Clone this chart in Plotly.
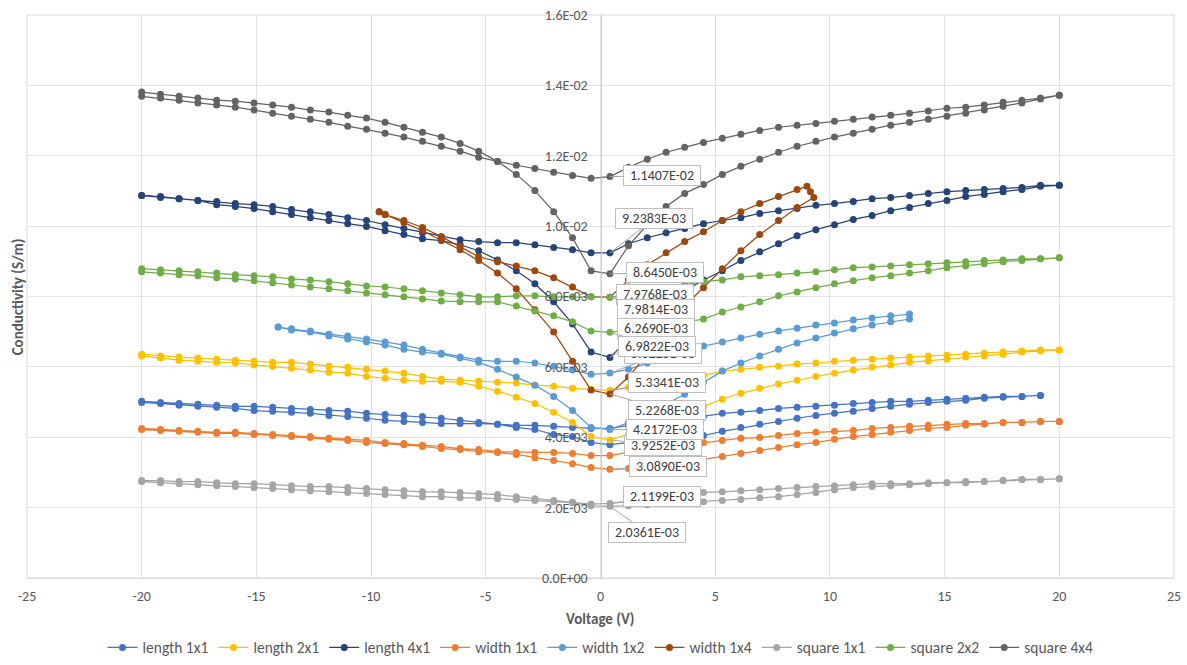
import plotly.graph_objects as go

# Bias voltage steps of the sweep (V)
VOLTAGE = [-20.00, -19.18, -18.37, -17.55, -16.73, -15.92, -15.10, -14.29, -13.47, -12.65,
           -11.84, -11.02, -10.20, -9.39, -8.57, -7.76, -6.94, -6.12, -5.31, -4.49,
           -3.67, -2.86, -2.04, -1.22, -0.41, 0.41, 1.22, 2.04, 2.86, 3.67,
           4.49, 5.31, 6.12, 6.94, 7.76, 8.57, 9.39, 10.20, 11.02, 11.84,
           12.65, 13.47, 14.29, 15.10, 15.92, 16.73, 17.55, 18.37, 19.18, 20.00]

# Voltage lists for the samples that were swept over a narrower window
width_1x2_v = [-14.05] + VOLTAGE[8:42]
width_1x4_v_sweep1 = [-9.65] + VOLTAGE[13:36] + [9.00, 9.15]
width_1x4_v_sweep2 = [-9.65] + VOLTAGE[13:36] + [9.30]

# Conductivity in mS/m, two sweeps per sample
length_1x1_sweep1 = [5.02, 4.99, 4.96, 4.94, 4.91, 4.88, 4.88, 4.85, 4.82, 4.79, 4.76, 4.74, 4.68, 4.65, 4.62, 4.59,
                     4.54, 4.48, 4.42, 4.37, 4.34, 4.34, 4.31, 4.28, 4.25, 4.25, 4.34, 4.42, 4.51, 4.56, 4.59, 4.68,
                     4.71, 4.76, 4.82, 4.85, 4.88, 4.91, 4.96, 4.99, 5.02, 5.02, 5.05, 5.08, 5.11, 5.14, 5.16, 5.16, 5.19]
length_1x1_sweep2 = [4.99, 4.96, 4.91, 4.88, 4.85, 4.82, 4.76, 4.74, 4.71, 4.68, 4.62, 4.59, 4.54, 4.48, 4.45, 4.42,
                     4.39, 4.39, 4.39, 4.37, 4.28, 4.22, 4.08, 4.02, 3.85, 3.79, 3.85, 3.91, 3.97, 4.02, 4.05, 4.17,
                     4.28, 4.37, 4.45, 4.54, 4.62, 4.68, 4.74, 4.82, 4.88, 4.94, 4.99, 5.02, 5.05, 5.11, 5.14, 5.16, 5.19]

length_2x1_sweep1 = [6.36, 6.31, 6.28, 6.25, 6.22, 6.19, 6.16, 6.13, 6.13, 6.08, 6.02, 5.99, 5.93, 5.88, 5.82, 5.73,
                     5.65, 5.62, 5.59, 5.56, 5.54, 5.48, 5.45, 5.39, 5.36, 5.3341, 5.42, 5.51, 5.59, 5.68, 5.76, 5.88,
                     5.93, 5.99, 6.02, 6.08, 6.11, 6.16, 6.19, 6.22, 6.25, 6.28, 6.31, 6.33, 6.36, 6.39, 6.42, 6.45,
                     6.48, 6.48]
length_2x1_sweep2 = [6.31, 6.25, 6.19, 6.16, 6.13, 6.11, 6.05, 6.02, 5.96, 5.91, 5.85, 5.82, 5.73, 5.68, 5.62, 5.59,
                     5.59, 5.56, 5.45, 5.31, 5.14, 4.96, 4.71, 4.42, 4.02, 3.9252, 4.08, 4.25, 4.45, 4.68, 4.88, 5.08,
                     5.25, 5.39, 5.51, 5.62, 5.73, 5.82, 5.91, 5.99, 6.05, 6.13, 6.16, 6.22, 6.28, 6.31, 6.36, 6.42,
                     6.45, 6.48]

length_4x1_sweep1 = [10.87, 10.84, 10.78, 10.73, 10.70, 10.64, 10.61, 10.56, 10.47, 10.41, 10.33, 10.24, 10.16, 10.04,
                     9.93, 9.81, 9.70, 9.61, 9.56, 9.53, 9.53, 9.47, 9.39, 9.33, 9.24, 9.2383, 9.50, 9.67, 9.81, 9.93,
                     10.07, 10.16, 10.24, 10.36, 10.44, 10.50, 10.59, 10.64, 10.70, 10.78, 10.81, 10.87, 10.93, 10.98,
                     11.01, 11.04, 11.07, 11.10, 11.16, 11.16]
length_4x1_sweep2 = [10.87, 10.81, 10.78, 10.73, 10.61, 10.56, 10.50, 10.41, 10.33, 10.24, 10.16, 10.07, 9.99, 9.87,
                     9.76, 9.64, 9.59, 9.47, 9.30, 9.04, 8.73, 8.36, 7.85, 7.22, 6.42, 6.269, 6.79, 7.30, 7.76, 8.16,
                     8.47, 8.73, 9.02, 9.27, 9.50, 9.73, 9.90, 10.04, 10.19, 10.30, 10.44, 10.53, 10.64, 10.73,
                     10.84, 10.90, 10.98, 11.04, 11.13, 11.16]

width_1x1_sweep1 = [4.25, 4.22, 4.19, 4.17, 4.14, 4.14, 4.11, 4.08, 4.05, 4.02, 3.97, 3.94, 3.91, 3.85, 3.82, 3.77,
                    3.74, 3.68, 3.65, 3.59, 3.57, 3.57, 3.57, 3.54, 3.48, 3.48, 3.57, 3.62, 3.68, 3.77, 3.85, 3.91,
                    3.97, 3.99, 4.05, 4.11, 4.14, 4.17, 4.19, 4.25, 4.28, 4.31, 4.34, 4.37, 4.39, 4.39, 4.42, 4.42,
                    4.45, 4.45]
width_1x1_sweep2 = [4.22, 4.19, 4.17, 4.14, 4.11, 4.11, 4.08, 4.05, 4.02, 3.99, 3.94, 3.91, 3.85, 3.82, 3.79, 3.74,
                    3.68, 3.65, 3.59, 3.57, 3.51, 3.42, 3.34, 3.25, 3.14, 3.089, 3.11, 3.17, 3.22, 3.28, 3.37, 3.45,
                    3.54, 3.62, 3.71, 3.79, 3.85, 3.94, 4.02, 4.08, 4.14, 4.19, 4.25, 4.28, 4.34, 4.37, 4.42, 4.42,
                    4.45, 4.45]

width_1x2_sweep1 = [7.13, 7.08, 7.02, 6.93, 6.88, 6.79, 6.71, 6.62, 6.50, 6.39, 6.28, 6.19, 6.16, 6.16, 6.11, 6.02,
                    5.91, 5.79, 5.8225, 5.93, 6.11, 6.28, 6.45, 6.59, 6.71, 6.82, 6.93, 7.02, 7.10, 7.19, 7.25, 7.33,
                    7.39, 7.45, 7.50]
width_1x2_sweep2 = [7.13, 7.05, 6.99, 6.88, 6.79, 6.71, 6.62, 6.50, 6.42, 6.36, 6.25, 6.13, 5.93, 5.71, 5.48, 5.16,
                    4.76, 4.28, 4.2172, 4.42, 4.68, 4.94, 5.22, 5.56, 5.88, 6.11, 6.31, 6.50, 6.68, 6.82, 6.96, 7.08,
                    7.19, 7.28, 7.36]

width_1x4_sweep1 = [10.41, 10.33, 10.16, 9.96, 9.70, 9.42, 9.13, 8.99, 8.87, 8.73, 8.53, 8.27, 7.99, 7.9814, 8.47,
                    8.90, 9.24, 9.56, 9.84, 10.16, 10.41, 10.64, 10.84, 11.04, 11.13, 10.98]
width_1x4_sweep2 = [10.41, 10.33, 10.10, 9.87, 9.61, 9.33, 9.02, 8.67, 8.22, 7.62, 6.99, 6.16, 5.34, 5.2268, 5.71,
                    6.36, 7.08, 7.73, 8.25, 8.79, 9.30, 9.76, 10.16, 10.53, 10.81]

square_1x1_sweep1 = [2.77, 2.77, 2.74, 2.74, 2.71, 2.68, 2.68, 2.65, 2.62, 2.60, 2.60, 2.57, 2.54, 2.51, 2.48, 2.45,
                     2.45, 2.43, 2.40, 2.37, 2.31, 2.25, 2.20, 2.15, 2.10, 2.1199, 2.17, 2.25, 2.31, 2.37, 2.43, 2.45,
                     2.48, 2.51, 2.54, 2.57, 2.60, 2.62, 2.65, 2.68, 2.68, 2.68, 2.71, 2.71, 2.74, 2.74, 2.77, 2.80,
                     2.80, 2.82]
square_1x1_sweep2 = [2.74, 2.71, 2.68, 2.65, 2.62, 2.60, 2.57, 2.54, 2.51, 2.48, 2.45, 2.43, 2.40, 2.37, 2.34, 2.31,
                     2.31, 2.28, 2.28, 2.25, 2.23, 2.20, 2.17, 2.14, 2.05, 2.0361, 2.05, 2.08, 2.11, 2.14, 2.17, 2.20,
                     2.23, 2.28, 2.31, 2.37, 2.43, 2.51, 2.57, 2.60, 2.62, 2.65, 2.68, 2.71, 2.71, 2.74, 2.77, 2.80,
                     2.80, 2.82]

square_2x2_sweep1 = [8.79, 8.76, 8.73, 8.70, 8.67, 8.62, 8.59, 8.56, 8.50, 8.47, 8.42, 8.36, 8.30, 8.27, 8.22, 8.16,
                     8.10, 8.05, 7.99, 7.99, 8.02, 8.02, 7.99, 7.99, 7.99, 7.9768, 8.07, 8.16, 8.25, 8.33, 8.42, 8.47,
                     8.56, 8.59, 8.62, 8.67, 8.70, 8.76, 8.82, 8.84, 8.87, 8.90, 8.93, 8.96, 8.99, 9.02, 9.04, 9.07,
                     9.07, 9.10]
square_2x2_sweep2 = [8.70, 8.67, 8.62, 8.59, 8.53, 8.50, 8.45, 8.39, 8.33, 8.27, 8.22, 8.16, 8.10, 8.05, 7.99, 7.93,
                     7.87, 7.85, 7.85, 7.85, 7.73, 7.59, 7.45, 7.28, 7.02, 6.9822, 7.05, 7.10, 7.19, 7.28, 7.36, 7.56,
                     7.70, 7.85, 8.02, 8.13, 8.25, 8.36, 8.45, 8.53, 8.59, 8.67, 8.73, 8.82, 8.87, 8.93, 8.99, 9.02,
                     9.07, 9.10]

square_4x4_sweep1 = [13.81, 13.75, 13.69, 13.64, 13.58, 13.55, 13.50, 13.44, 13.38, 13.30, 13.24, 13.15, 13.07, 12.95,
                     12.81, 12.67, 12.53, 12.35, 12.13, 11.84, 11.47, 11.01, 10.41, 9.67, 8.73, 8.645, 9.44, 10.04,
                     10.56, 10.93, 11.18, 11.47, 11.70, 11.90, 12.10, 12.27, 12.41, 12.53, 12.64, 12.75, 12.87,
                     12.95, 13.04, 13.12, 13.21, 13.30, 13.41, 13.50, 13.61, 13.72]
square_4x4_sweep2 = [13.69, 13.64, 13.58, 13.50, 13.44, 13.38, 13.30, 13.21, 13.12, 13.04, 12.95, 12.84, 12.75, 12.64,
                     12.53, 12.41, 12.27, 12.13, 11.96, 11.84, 11.73, 11.64, 11.53, 11.44, 11.36, 11.407, 11.67,
                     11.90, 12.10, 12.24, 12.38, 12.50, 12.61, 12.72, 12.81, 12.87, 12.92, 12.98, 13.04, 13.10,
                     13.15, 13.21, 13.27, 13.35, 13.38, 13.44, 13.52, 13.58, 13.64, 13.72]

SERIES_NAMES = ["length 1x1", "length 2x1", "length 4x1", "width 1x1", "width 1x2",
                "width 1x4", "square 1x1", "square 2x2", "square 4x4"]

X_TICKS = [-25, -20, -15, -10, -5, 0, 5, 10, 15, 20, 25]
Y_TICKS = [0.0, 0.002, 0.004, 0.006, 0.008, 0.010, 0.012, 0.014, 0.016]
Y_TICK_LABELS = ["0.0E+00", "2.0E-03", "4.0E-03", "6.0E-03", "8.0E-03",
                 "1.0E-02", "1.2E-02", "1.4E-02", "1.6E-02"]

# name -> (voltages sweep 1, values sweep 1, voltages sweep 2, values sweep 2)
sweeps = {
    "length 1x1": (VOLTAGE[:49], length_1x1_sweep1, VOLTAGE[:49], length_1x1_sweep2),
    "length 2x1": (VOLTAGE, length_2x1_sweep1, VOLTAGE, length_2x1_sweep2),
    "length 4x1": (VOLTAGE, length_4x1_sweep1, VOLTAGE, length_4x1_sweep2),
    "width 1x1": (VOLTAGE, width_1x1_sweep1, VOLTAGE, width_1x1_sweep2),
    "width 1x2": (width_1x2_v, width_1x2_sweep1, width_1x2_v, width_1x2_sweep2),
    "width 1x4": (width_1x4_v_sweep1, width_1x4_sweep1, width_1x4_v_sweep2, width_1x4_sweep2),
    "square 1x1": (VOLTAGE, square_1x1_sweep1, VOLTAGE, square_1x1_sweep2),
    "square 2x2": (VOLTAGE, square_2x2_sweep1, VOLTAGE, square_2x2_sweep2),
    "square 4x4": (VOLTAGE, square_4x4_sweep1, VOLTAGE, square_4x4_sweep2),
}

colors = {
    "length 1x1": "#4472C4", "length 2x1": "#FFC000", "length 4x1": "#264478",
    "width 1x1": "#ED7D31", "width 1x2": "#5B9BD5", "width 1x4": "#9E480E",
    "square 1x1": "#A5A5A5", "square 2x2": "#70AD47", "square 4x4": "#636363",
}

FONT = "Carlito, Lato, 'Open Sans', sans-serif"
TEXT = "#595959"

fig = go.Figure()
for name in SERIES_NAMES:
    v1, s1, v2, s2 = sweeps[name]
    xs = list(v1) + list(v2)[::-1]
    ys = [s * 1e-3 for s in s1] + [s * 1e-3 for s in s2][::-1]
    fig.add_trace(go.Scatter(
        x=xs, y=ys, name=name, mode="lines+markers",
        line=dict(color=colors[name], width=1.25),
        marker=dict(color=colors[name], size=7),
        hovertemplate="%{x:.2f} V<br>%{y:.4E} S/m<extra>" + name + "</extra>",
    ))

# Data callouts near 0 V: (series, sweep, point index, box offset x, box offset y)
callouts = [
    ("width 1x2", 1, 18, 53, -20),
    ("length 2x1", 2, 25, 53, 6),
    ("square 4x4", 2, 25, 52, -1),
    ("length 4x1", 1, 25, 44, -34),
    ("square 4x4", 1, 25, 55, -1),
    ("square 2x2", 1, 25, 45, -3),
    ("width 1x4", 1, 13, 46, 12),
    ("length 4x1", 2, 25, 46, -29),
    ("square 2x2", 2, 25, 47, 14),
    ("length 2x1", 1, 25, 57, -8),
    ("width 1x4", 2, 13, 57, 16),
    ("width 1x2", 2, 18, 55, 0),
    ("width 1x1", 2, 25, 58, -3),
    ("square 1x1", 1, 25, 52, -7),
    ("square 1x1", 2, 25, 37, 26),
]

annotations = []
for name, sweep, idx, dx, dy in callouts:
    v1, s1, v2, s2 = sweeps[name]
    v, s = (v1, s1) if sweep == 1 else (v2, s2)
    val = s[idx] * 1e-3
    annotations.append(dict(
        x=v[idx], y=val, xref="x", yref="y", text=f"{val:.4E}",
        showarrow=True, arrowhead=0, arrowwidth=1, arrowcolor="#a6a6a6",
        ax=dx, ay=dy, standoff=0,
        bgcolor="white", bordercolor="#bfbfbf", borderwidth=1, borderpad=2,
        width=72, height=15,
        font=dict(family=FONT, size=14, color="#404040"),
    ))

annotations.append(dict(
    x=-0.008, y=0.5, xref="paper", yref="paper", text="<b>Conductivity (S/m)</b>",
    textangle=-90, showarrow=False, xanchor="center", yanchor="middle",
    font=dict(family=FONT, size=15, color=TEXT),
))
annotations.append(dict(
    x=0.5, y=-0.073, xref="paper", yref="paper", text="<b>Voltage (V)</b>",
    showarrow=False, xanchor="center", yanchor="middle",
    font=dict(family=FONT, size=15, color=TEXT),
))

fig.update_layout(
    width=1187, height=665,
    margin=dict(l=27, r=13, t=15, b=87, autoexpand=False),
    paper_bgcolor="white", plot_bgcolor="white",
    font=dict(family=FONT, size=14, color=TEXT),
    showlegend=True,
    legend=dict(orientation="h", x=0.5, xanchor="center", y=-0.124, yanchor="middle",
                font=dict(family=FONT, size=15.5, color=TEXT), traceorder="normal"),
    annotations=annotations,
    shapes=[dict(type="rect", xref="paper", yref="paper", x0=0, x1=1, y0=0, y1=1,
                 line=dict(color="#d9d9d9", width=1), layer="below")],
    xaxis=dict(range=[-25, 25], tickvals=X_TICKS, ticktext=[str(t) for t in X_TICKS],
               showgrid=True, gridcolor="#e2e2e2", gridwidth=1, zeroline=False,
               showline=True, linecolor="#d9d9d9", ticks="", ticklabelstandoff=5,
               tickfont=dict(family=FONT, size=14, color=TEXT)),
    yaxis=dict(range=[0, 0.016], tickvals=Y_TICKS, ticktext=Y_TICK_LABELS,
               anchor="free", position=0.5, showline=True, linecolor="#c6cddc", linewidth=1,
               showgrid=True, gridcolor="#e2e2e2", gridwidth=1, zeroline=False, ticks="",
               ticklabelstandoff=10,
               tickfont=dict(family=FONT, size=14, color=TEXT)),
)

fig.write_html("out.html")
